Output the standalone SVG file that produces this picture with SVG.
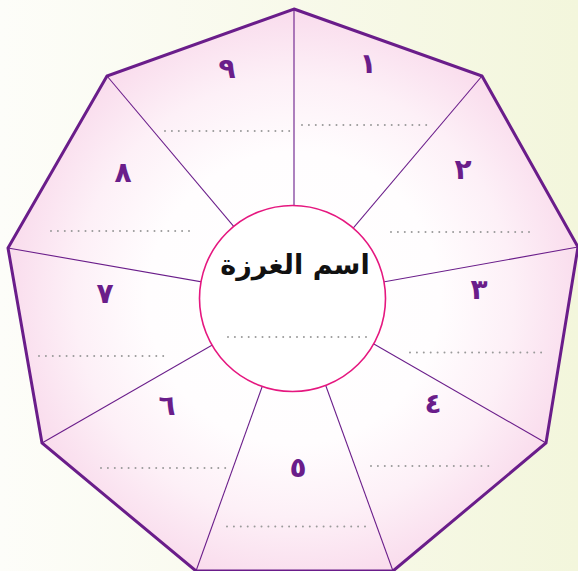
<svg xmlns="http://www.w3.org/2000/svg" width="578" height="571" viewBox="0 0 578 571">
<defs>
<linearGradient id="bg" x1="0" y1="0" x2="1" y2="0">
<stop offset="0" stop-color="#fdfdf9"/>
<stop offset="1" stop-color="#f3f6dc"/>
</linearGradient>
<radialGradient id="fill" cx="294" cy="298" r="292" gradientUnits="userSpaceOnUse">
<stop offset="0" stop-color="#ffffff"/>
<stop offset="0.5" stop-color="#fffdfe"/>
<stop offset="0.75" stop-color="#fdf0f7"/>
<stop offset="1" stop-color="#f9dbec"/>
</radialGradient>
<style>
.edge{fill:url(#fill);stroke:#6a1d8a;stroke-width:3;stroke-linejoin:miter}
.spoke{stroke:#6a1d8a;stroke-width:1.1;fill:none}
.hub{fill:#ffffff;stroke:#e5177f;stroke-width:1.6}
.num{font-family:"DejaVu Sans",sans-serif;font-weight:bold;font-size:28px;fill:#6a1d8a;text-anchor:middle}
.title{font-family:"DejaVu Sans",sans-serif;font-weight:bold;font-size:27px;fill:#111111;text-anchor:middle}
.dots{stroke:#9a9a9a;stroke-width:2;stroke-linecap:round;stroke-dasharray:0 6.9;fill:none}
</style>
</defs>
<rect width="578" height="571" fill="url(#bg)"/>
<g id="nonagon">
<polygon class="edge" points="294,9 482,76 578,247 546,443 393,571 196,571 42,443 8,248 107,76"/>
</g>
<g id="connectors">
<line class="spoke" x1="294" y1="298" x2="294" y2="9"/>
<line class="spoke" x1="294" y1="298" x2="482" y2="76"/>
<line class="spoke" x1="294" y1="298" x2="578" y2="247"/>
<line class="spoke" x1="294" y1="298" x2="546" y2="443"/>
<line class="spoke" x1="294" y1="298" x2="393" y2="571"/>
<line class="spoke" x1="294" y1="298" x2="196" y2="571"/>
<line class="spoke" x1="294" y1="298" x2="42" y2="443"/>
<line class="spoke" x1="294" y1="298" x2="8" y2="248"/>
<line class="spoke" x1="294" y1="298" x2="107" y2="76"/>
</g>
<g id="center">
<circle class="hub" cx="292.5" cy="298.5" r="93"/>
<text class="title" x="295" y="274" direction="rtl">اسم الغرزة</text>
<line class="dots" x1="228" y1="337" x2="372" y2="337"/>
</g>
<g id="sector1"><text class="num" x="368" y="73">١</text><line class="dots" x1="302" y1="125" x2="433" y2="125"/></g>
<g id="sector2"><text class="num" x="463" y="179">٢</text><line class="dots" x1="391" y1="232" x2="533" y2="232"/></g>
<g id="sector3"><text class="num" x="479" y="299">٣</text><line class="dots" x1="410" y1="352.5" x2="548" y2="352.5"/></g>
<g id="sector4"><text class="num" x="433" y="413">٤</text><line class="dots" x1="371" y1="466" x2="495" y2="466"/></g>
<g id="sector5"><text class="num" x="298" y="477">٥</text><line class="dots" x1="227" y1="526.5" x2="368" y2="526.5"/></g>
<g id="sector6"><text class="num" x="167" y="415">٦</text><line class="dots" x1="101" y1="468" x2="232" y2="468"/></g>
<g id="sector7"><text class="num" x="105" y="303">٧</text><line class="dots" x1="39" y1="356" x2="170" y2="356"/></g>
<g id="sector8"><text class="num" x="123" y="182">٨</text><line class="dots" x1="51" y1="231" x2="193" y2="231"/></g>
<g id="sector9"><text class="num" x="227" y="78">٩</text><line class="dots" x1="165" y1="131" x2="290" y2="131"/></g>
</svg>
